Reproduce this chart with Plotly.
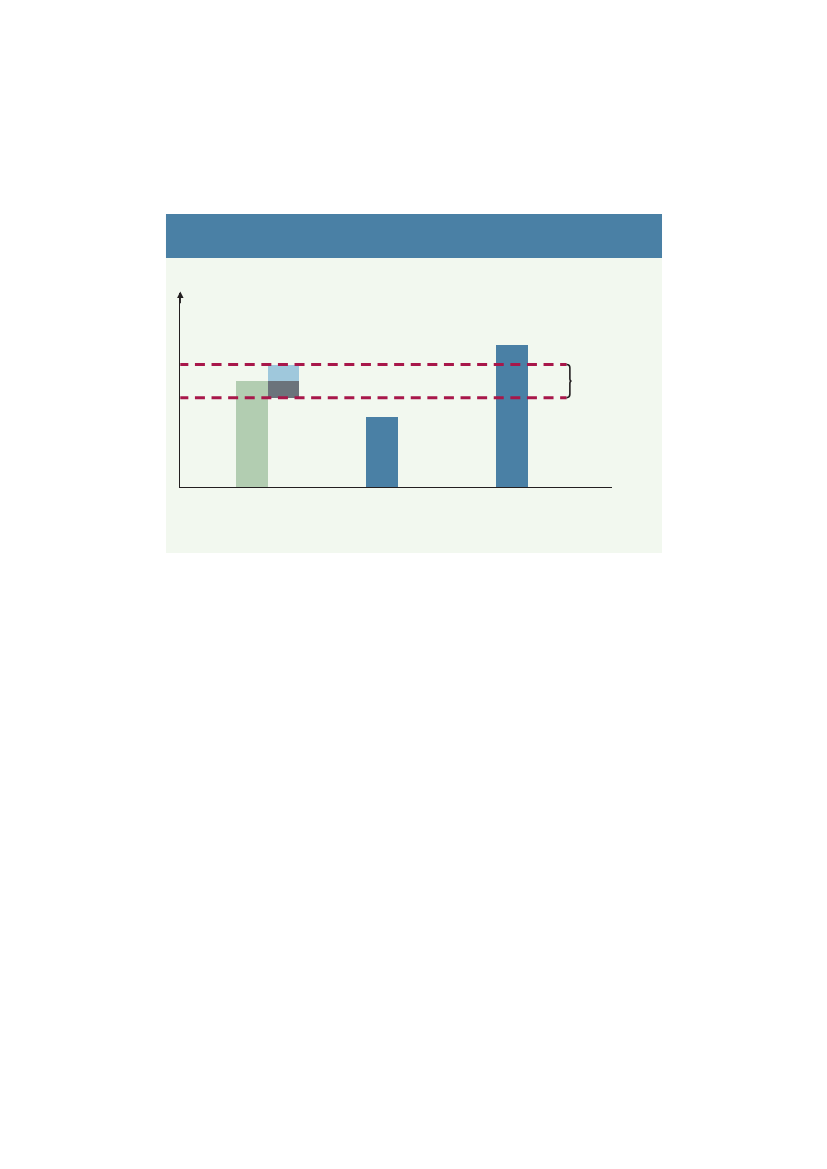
import plotly.graph_objects as go

# bar positions (category index) and heights, arbitrary units
categories = [1, 2, 3]
bar_values = [3.2, 2.13, 4.28]

# the band marked by the two dashed lines and the brace
band_low = 2.7
band_high = 3.7

# floating piece next to the first bar, split where the first bar ends
piece_bases = [band_low, bar_values[0]]
piece_heights = [bar_values[0] - band_low, band_high - bar_values[0]]

green = "#b2cdb1"
blue = "#4a80a5"
light_blue = "#9fc8dc"
dark_grey = "#6b737b"
crimson = "#a8174a"
ink = "#231f20"

bar_w = 0.244

fig = go.Figure()

# first bar (green), the others blue
fig.add_trace(go.Bar(x=categories[:1], y=bar_values[:1], width=bar_w,
                     marker=dict(color=green, line_width=0)))
fig.add_trace(go.Bar(x=categories[1:], y=bar_values[1:], width=bar_w,
                     marker=dict(color=blue, line_width=0)))

# floating stacked piece right of the first bar
fig.add_trace(go.Bar(x=[categories[0]] * 2, y=piece_heights, base=piece_bases,
                     width=bar_w, offset=bar_w / 2,
                     marker=dict(color=[dark_grey, light_blue], line_width=0)))

# dashed band lines
for yv in [band_low, band_high]:
    fig.add_shape(type="line", xref="x", yref="y", x0=0.433, x1=3.42, y0=yv, y1=yv,
                  line=dict(color=crimson, width=2.9, dash="10px,6.6px"))

# brace
mid = (band_low + band_high) / 2
fig.add_shape(type="path", xref="x", yref="y",
              path=(f"M 3.42,{band_high} Q 3.445,{band_high} 3.445,{band_high - 0.1} "
                    f"L 3.445,{mid + 0.07} Q 3.445,{mid} 3.458,{mid} "
                    f"Q 3.445,{mid} 3.445,{mid - 0.07} "
                    f"L 3.445,{band_low + 0.1} Q 3.445,{band_low} 3.42,{band_low}"),
              line=dict(color=ink, width=1.6))

# panel background and header band
fig.add_shape(type="rect", xref="paper", yref="paper", x0=0.2007, x1=0.8005,
              y0=0.5270, y1=0.8169, fillcolor="#f2f8ef", line_width=0, layer="below")
fig.add_shape(type="rect", xref="paper", yref="paper", x0=0.2007, x1=0.8005,
              y0=0.7793, y1=0.8169, fillcolor=blue, line_width=0, layer="below")

# y axis arrow
fig.add_annotation(x=0.448, y=5.9, ax=0.448, ay=5.5, xref="x", yref="y",
                   axref="x", ayref="y", text="", showarrow=True,
                   arrowhead=2, arrowsize=1, arrowwidth=1.3, arrowcolor=ink)

fig.update_layout(
    width=827, height=1169,
    margin=dict(l=0, r=0, t=0, b=0),
    paper_bgcolor="white",
    plot_bgcolor="rgba(0,0,0,0)",
    barmode="overlay",
    showlegend=False,
    bargap=0,
)
fig.update_xaxes(domain=[0.218, 0.7397], range=[0.448, 3.767],
                 showline=True, linecolor=ink, linewidth=1.4,
                 showticklabels=False, showgrid=False, zeroline=False, ticks="")
fig.update_yaxes(domain=[0.5831, 0.7496], range=[0, 5.86],
                 showline=True, linecolor=ink, linewidth=1.4,
                 showticklabels=False, showgrid=False, zeroline=False, ticks="")

fig.write_html("out.html", config={"displayModeBar": False},
               post_script="document.body.style.margin = '0';")
